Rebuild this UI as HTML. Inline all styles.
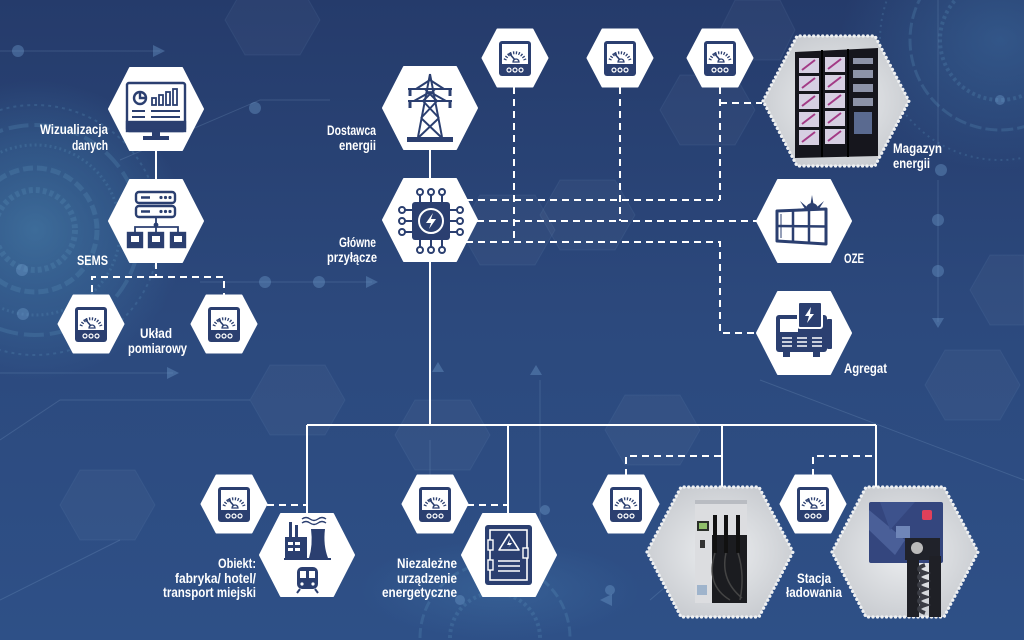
<!DOCTYPE html>
<html><head><meta charset="utf-8"><style>
html,body{margin:0;padding:0;background:#2a4678;width:1024px;height:640px;overflow:hidden;}
svg{display:block;}
text{font-family:"Liberation Sans",sans-serif;font-weight:700;font-size:14px;fill:#fff;}
</style></head><body>
<svg width="1024" height="640" viewBox="0 0 1024 640" xmlns="http://www.w3.org/2000/svg">
<defs>
<linearGradient id="bg" x1="0" y1="0" x2="0" y2="1">
<stop offset="0" stop-color="#253b6b"/><stop offset="0.5" stop-color="#2c497d"/><stop offset="1" stop-color="#2e5087"/>
</linearGradient>
<radialGradient id="gl1" cx="0.5" cy="0.5" r="0.5"><stop offset="0" stop-color="#4a86b0" stop-opacity="0.6"/><stop offset="0.6" stop-color="#3e74a3" stop-opacity="0.35"/><stop offset="1" stop-color="#3e74a3" stop-opacity="0"/></radialGradient>
<radialGradient id="gl2" cx="0.5" cy="0.5" r="0.5"><stop offset="0" stop-color="#3f6fa3" stop-opacity="0.5"/><stop offset="1" stop-color="#3f6fa3" stop-opacity="0"/></radialGradient>
<radialGradient id="gray" cx="0.5" cy="0.5" r="0.6"><stop offset="0" stop-color="#eceef0"/><stop offset="1" stop-color="#c6c9ce"/></radialGradient>
<polygon id="hB" points="-47,0 -26,-41 26,-41 47,0 26,41 -26,41"/>
<polygon id="hM" points="-32.5,0 -17.5,-28.5 17.5,-28.5 32.5,0 17.5,28.5 -17.5,28.5"/>
<polygon id="hG" points="-73,0 -39,-65 39,-65 73,0 39,65 -39,65"/>
<g id="meter">
<use href="#hM" fill="#fff" stroke="#fff" stroke-width="2" stroke-linejoin="round"/>
<rect x="-16" y="-17" width="32" height="35" rx="3" fill="#2b3f70"/>
<rect x="-13" y="-14" width="26" height="20" fill="#fff"/>
<path d="M-10 2 A10.5 10.5 0 0 1 10 2" fill="none" stroke="#2b3f70" stroke-width="3" stroke-dasharray="1.3 1.5"/>
<line x1="-6" y1="-5" x2="0" y2="2" stroke="#2b3f70" stroke-width="1.6"/>
<path d="M-2 4 a3 3 0 0 1 6 0 z" fill="none" stroke="#2b3f70" stroke-width="1.3"/>
<circle cx="-6" cy="12" r="2" fill="none" stroke="#fff" stroke-width="1.2"/>
<circle cx="0" cy="12" r="2" fill="none" stroke="#fff" stroke-width="1.2"/>
<circle cx="6" cy="12" r="2" fill="none" stroke="#fff" stroke-width="1.2"/>
</g>
</defs>

<!-- background -->
<rect width="1024" height="640" fill="url(#bg)"/>
<ellipse cx="35" cy="230" rx="150" ry="150" fill="url(#gl1)"/>
<ellipse cx="1000" cy="40" rx="160" ry="130" fill="url(#gl2)"/>
<ellipse cx="500" cy="590" rx="140" ry="50" fill="url(#gl2)"/>
<g fill="none" stroke="#5b93bd" stroke-opacity="0.25">
<circle cx="35" cy="230" r="40" stroke-width="6" stroke-dasharray="4 3"/>
<circle cx="35" cy="230" r="62" stroke-width="5" stroke-dasharray="10 4"/>
<circle cx="35" cy="230" r="85" stroke-width="3" stroke-dasharray="2 3"/>
<circle cx="35" cy="230" r="105" stroke-width="4" stroke-dasharray="20 6"/>
<circle cx="35" cy="230" r="125" stroke-width="2" stroke-dasharray="3 4"/>
<circle cx="1000" cy="40" r="60" stroke-width="4" stroke-dasharray="3 3"/>
<circle cx="1000" cy="40" r="90" stroke-width="3" stroke-dasharray="12 4"/>
<circle cx="1000" cy="40" r="120" stroke-width="2" stroke-dasharray="2 4"/>
<path d="M450 638 A45 45 0 0 1 540 638" stroke-width="4" stroke-dasharray="3 3"/>
<path d="M420 638 A75 75 0 0 1 570 638" stroke-width="3" stroke-dasharray="10 4"/>
</g>
<!-- faint hexagons -->
<g fill="#ffffff" fill-opacity="0.035" stroke="#7fa6d0" stroke-opacity="0.1">
<polygon points="225,20 245,-15 300,-15 320,20 300,55 245,55"/>
<polygon points="460,230 480,195 535,195 555,230 535,265 480,265"/>
<polygon points="540,215 560,180 615,180 635,215 615,250 560,250"/>
<polygon points="250,400 270,365 325,365 345,400 325,435 270,435"/>
<polygon points="60,505 80,470 135,470 155,505 135,540 80,540"/>
<polygon points="605,430 625,395 680,395 700,430 680,465 625,465"/>
<polygon points="970,290 990,255 1024,255 1024,325 990,325"/>
<polygon points="925,385 945,350 1000,350 1020,385 1000,420 945,420"/>
<polygon points="660,110 680,75 735,75 755,110 735,145 680,145"/>
<polygon points="395,435 415,400 470,400 490,435 470,470 415,470"/>
<polygon points="720,30 735,0 780,0 795,30 780,60 735,60"/>
</g>
<!-- faint traces -->
<g stroke="#8fb4d8" stroke-opacity="0.2" stroke-width="1" fill="none">
<path d="M0 51 H160"/><path d="M0 373 H173"/><path d="M200 282 H372"/>
<path d="M938 180 V322"/><path d="M938 0 V150"/>
<path d="M0 440 L60 400 H250"/><path d="M540 380 V520"/><path d="M430 440 V520"/>
<path d="M650 600 L720 540"/><path d="M0 600 L120 540"/>
<path d="M120 160 L260 100 H330"/><path d="M760 380 L1024 480"/>
</g>
<g fill="#6f9ccb" fill-opacity="0.4">
<circle cx="18" cy="51" r="6"/><circle cx="265" cy="282" r="6"/><circle cx="319" cy="282" r="6"/>
<circle cx="938" cy="220" r="6"/><circle cx="938" cy="271" r="6"/><circle cx="23" cy="314" r="6"/>
<circle cx="255" cy="108" r="6"/><circle cx="941" cy="170" r="6"/><circle cx="22" cy="270" r="6"/>
<circle cx="545" cy="510" r="5"/><circle cx="460" cy="600" r="5"/><circle cx="610" cy="590" r="5"/>
<circle cx="1000" cy="100" r="5"/>
<path d="M153 45 L165 51 L153 57Z"/><path d="M366 276 L378 282 L366 288Z"/><path d="M167 367 L179 373 L167 379Z"/>
<path d="M932 318 L944 318 L938 328Z"/><path d="M530 375 L536 365 L542 375Z"/><path d="M432 372 L438 362 L444 372Z"/>
<path d="M600 600 L612 594 L612 606Z"/>
</g>

<!-- solid connectors -->
<g stroke="#fff" stroke-width="2" fill="none">
<path d="M156 150 V180"/>
<path d="M430 149 V179"/>
<path d="M430 261 V425"/>
<path d="M307 425 H876"/>
<path d="M307 425 V513"/><path d="M508 425 V513"/><path d="M722 425 V487"/><path d="M876 425 V487"/>
</g>
<!-- dashed connectors -->
<g stroke="#fff" stroke-width="2" fill="none" stroke-dasharray="7 5">
<path d="M156 262 V277"/><path d="M156 277 H92 V295"/><path d="M156 277 H224 V295"/>
<path d="M514 87 V242"/>
<path d="M620 87 V221"/>
<path d="M720 87 V200"/>
<path d="M720 103 H762"/>
<path d="M466 200 H720"/>
<path d="M477 221 H757"/>
<path d="M466 242 H720 V333 H757"/>
<path d="M267 505 H307"/>
<path d="M467 505 H508"/>
<path d="M626 476 V456 H722"/>
<path d="M813 476 V456 H876"/>
</g>

<!-- white big hexes -->
<g fill="#fff" stroke="#fff" stroke-width="2" stroke-linejoin="round">
<use href="#hB" x="156" y="109"/>
<use href="#hB" x="156" y="221"/>
<use href="#hB" x="430" y="108"/>
<use href="#hB" x="430" y="220"/>
<use href="#hB" x="804" y="221"/>
<use href="#hB" x="804" y="333"/>
<use href="#hB" x="307" y="555"/>
<use href="#hB" x="509" y="555"/>
</g>

<!-- meters -->
<use href="#meter" x="91" y="324"/>
<use href="#meter" x="224" y="324"/>
<use href="#meter" x="515" y="58"/>
<use href="#meter" x="620" y="58"/>
<use href="#meter" x="720" y="58"/>
<use href="#meter" x="234" y="504"/>
<use href="#meter" x="435" y="504"/>
<use href="#meter" x="626" y="504"/>
<use href="#meter" x="813" y="504"/>

<!-- gray hexes -->
<g fill="url(#gray)" stroke="#eef0f2" stroke-width="3.2" stroke-dasharray="0.1 4.4" stroke-linecap="round">
<use href="#hG" x="836" y="101"/>
<use href="#hG" x="720" y="552"/>
<use href="#hG" x="905" y="552"/>
</g>

<!-- Wizualizacja icon -->
<g transform="translate(156,109)" fill="none" stroke="#2b3f70" stroke-width="2.4">
<rect x="-29" y="-26" width="58" height="48" rx="2"/>
<rect x="-29" y="13" width="58" height="9" fill="#2b3f70"/>
<rect x="-4" y="22" width="8" height="6" fill="#2b3f70" stroke="none"/>
<rect x="-13" y="27" width="26" height="4" fill="#2b3f70" stroke="none"/>
<circle cx="-16" cy="-11" r="6"/><path d="M-16 -17 V-11 H-10"/>
<rect x="-4" y="-11" width="4" height="7" stroke-width="1.8"/>
<rect x="3" y="-14" width="4" height="10" stroke-width="1.8"/>
<rect x="10" y="-17" width="4" height="13" stroke-width="1.8"/>
<rect x="17" y="-20" width="4" height="16" stroke-width="1.8"/>
<path d="M-24 2 H-11 M-5 2 H24 M-24 8 H-11 M-5 8 H24" stroke-width="2"/>
</g>

<!-- SEMS icon -->
<g transform="translate(156,221)" stroke="#2b3f70" stroke-width="2.4" fill="none">
<rect x="-20" y="-29" width="39" height="11" rx="3"/>
<rect x="-20" y="-15" width="39" height="11" rx="3"/>
<path d="M-15 -23.5 H-6 M-15 -9.5 H-6" />
<g fill="#2b3f70" stroke="none"><circle cx="5" cy="-23.5" r="1.6"/><circle cx="9.5" cy="-23.5" r="1.6"/><circle cx="14" cy="-23.5" r="1.6"/><circle cx="5" cy="-9.5" r="1.6"/><circle cx="9.5" cy="-9.5" r="1.6"/><circle cx="14" cy="-9.5" r="1.6"/><circle cx="0" cy="4" r="2.4"/></g>
<path d="M0 -4 V12 M-21 12 V6 H22 V12" stroke-width="1.8"/>
<rect x="-28" y="12" width="14" height="14" fill="#2b3f70"/>
<rect x="-7" y="12" width="14" height="14" fill="#2b3f70"/>
<rect x="15" y="12" width="14" height="14" fill="#2b3f70"/>
<g fill="#fff" stroke="none"><rect x="-25" y="15" width="8" height="6"/><rect x="-4" y="15" width="8" height="6"/><rect x="18" y="15" width="8" height="6"/></g>
</g>

<!-- Tower icon -->
<g transform="translate(430,108)" stroke="#2b3f70" stroke-width="2" fill="none">
<path d="M0 -34 L-12 29 M0 -34 L12 29"/>
<path d="M-22 -19 H22 M-22 -7 H22 M-14 -19 L0 -28 L14 -19 M-16 -7 L0 -16 L16 -7"/>
<path d="M-5 -19 L7 -7 M5 -19 L-7 -7 M-7 -7 L9 10 M7 -7 L-9 10 M-9 10 L11 29 M9 10 L-11 29"/>
<path d="M-20 -19 V-12 M20 -19 V-12 M-20 -7 V0 M20 -7 V0" stroke-width="3"/>
<rect x="-22" y="30" width="44" height="3" fill="#2b3f70"/>
</g>

<!-- Główne icon -->
<g transform="translate(431,221)">
<g stroke="#2b3f70" stroke-width="2" fill="#fff">
<path d="M-11 -19 V-26 M0 -19 V-26 M11 -19 V-26 M-11 19 V26 M0 19 V26 M11 19 V26 M-19 -11 H-26 M-19 0 H-26 M-19 11 H-26 M19 -11 H26 M19 0 H26 M19 11 H26"/>
<circle cx="-11" cy="-29" r="3"/><circle cx="0" cy="-29" r="3"/><circle cx="11" cy="-29" r="3"/>
<circle cx="-11" cy="29" r="3"/><circle cx="0" cy="29" r="3"/><circle cx="11" cy="29" r="3"/>
<circle cx="-29" cy="-11" r="3"/><circle cx="-29" cy="0" r="3"/><circle cx="-29" cy="11" r="3"/>
<circle cx="29" cy="-11" r="3"/><circle cx="29" cy="0" r="3"/><circle cx="29" cy="11" r="3"/>
</g>
<rect x="-19" y="-19" width="38" height="38" rx="3" fill="#2b3f70"/>
<circle r="12" fill="none" stroke="#fff" stroke-width="2"/>
<path d="M2 -8 L-5 2 H0 L-2 8 L5 -2 H0 Z" fill="#fff"/>
</g>

<!-- OZE icon -->
<g transform="translate(804,221)">
<g fill="#2b3f70"><circle cx="8" cy="-12" r="6"/>
<path d="M8 -26 L9.5 -17 L6.5 -17Z M-4 -20 L3 -14 L1 -12Z M20 -20 L13 -14 L15 -12Z M-7 -12 L2 -13 L2 -11Z M23 -12 L14 -13 L14 -11Z"/></g>
<path d="M-27 -10 L22 -12 L22 23 L-27 20 Z" fill="#fff" stroke="#2b3f70" stroke-width="3" stroke-linejoin="round"/>
<path d="M-11 -10.7 V21 M5 -11.3 V22 M-27 5 L22 5.5" stroke="#2b3f70" stroke-width="2.5"/>
<path d="M-23 -7 V17" stroke="#2b3f70" stroke-width="1"/>
</g>

<!-- Agregat icon -->
<g transform="translate(804,333)">
<rect x="-28" y="-18" width="51" height="37" rx="3" fill="#2b3f70"/>
<rect x="23" y="-14" width="5" height="30" rx="1" fill="#2b3f70"/>
<rect x="-24" y="-14" width="18" height="13" fill="#fff"/>
<rect x="-6" y="-31" width="24" height="26" rx="2" fill="#2b3f70" stroke="#fff" stroke-width="2"/>
<path d="M7 -26 L1 -17 H5 L3 -10 L10 -19 H6 Z" fill="#fff"/>
<g stroke="#fff" stroke-width="1.6"><path d="M-22 5 H-12 M-22 9 H-12 M-22 13 H-12 M-7 5 H3 M-7 9 H3 M-7 13 H3 M8 5 H18 M8 9 H18 M8 13 H18"/></g>
<rect x="-21" y="19" width="7" height="5" fill="#2b3f70"/><rect x="9" y="19" width="7" height="5" fill="#2b3f70"/>
</g>

<!-- Obiekt icon -->
<g transform="translate(307,555)">
<path d="M-5 -36 q4 -3 8 0 t8 0 t8 0 M-5 -32 q4 -3 8 0 t8 0 t8 0" stroke="#2b3f70" stroke-width="1.4" fill="none"/>
<rect x="-18" y="-33" width="3" height="16" fill="#2b3f70"/><rect x="-12" y="-30" width="3" height="13" fill="#2b3f70"/>
<rect x="-22" y="-18" width="22" height="21" fill="#2b3f70"/>
<g fill="#fff"><rect x="-19" y="-13" width="5" height="3"/><rect x="-12" y="-13" width="5" height="3"/><rect x="-19" y="-7" width="5" height="3"/><rect x="-12" y="-7" width="5" height="3"/></g>
<path d="M2 3 Q6 -10 4 -26 H18 Q16 -10 21 3 Z" fill="#2b3f70"/>
<rect x="-23" y="3" width="47" height="2" fill="#2b3f70"/>
<rect x="-10" y="12" width="21" height="22" rx="5" fill="#2b3f70"/>
<g fill="#fff"><rect x="-7" y="16" width="6" height="7"/><rect x="2" y="16" width="6" height="7"/><circle cx="-5" cy="29" r="1.6"/><circle cx="6" cy="29" r="1.6"/></g>
<path d="M-7 34 L-10 38 M8 34 L11 38" stroke="#2b3f70" stroke-width="2"/>
</g>

<!-- Niezależne icon -->
<g transform="translate(509,555)">
<rect x="-24" y="-30" width="47" height="60" rx="3" fill="#2b3f70"/>
<rect x="-19" y="-25" width="37" height="50" fill="none" stroke="#fff" stroke-width="1.6"/>
<rect x="-21" y="-15" width="5" height="10" fill="#2b3f70" stroke="#fff" stroke-width="1.4"/>
<rect x="-21" y="5" width="5" height="10" fill="#2b3f70" stroke="#fff" stroke-width="1.4"/>
<rect x="14" y="-7" width="5" height="10" fill="#2b3f70" stroke="#fff" stroke-width="1.4"/>
<path d="M0 -21 L10 -5 H-10 Z" fill="none" stroke="#fff" stroke-width="1.6" stroke-linejoin="round"/>
<path d="M1 -16 L-2 -10 H1 L-1 -7 L3 -12 H0 Z" fill="#fff"/>
<path d="M-11 6 H11 M-11 11 H11 M-11 16 H11" stroke="#fff" stroke-width="1.6"/>
</g>

<!-- Magazyn energii image -->
<g>
<path d="M795 52 L878 48 L878 156 L795 158 Z" fill="#16161d"/>
<g fill="#d6cfe2">
<rect x="799" y="58" width="20" height="15"/><rect x="799" y="76" width="20" height="15"/><rect x="799" y="94" width="20" height="15"/><rect x="799" y="112" width="20" height="15"/><rect x="799" y="130" width="20" height="15"/>
<rect x="825" y="57" width="20" height="15"/><rect x="825" y="75" width="20" height="15"/><rect x="825" y="93" width="20" height="15"/><rect x="825" y="111" width="20" height="15"/><rect x="825" y="129" width="20" height="15"/>
</g>
<g stroke="#a33a86" stroke-width="2" fill="none">
<path d="M802 70 L815 60 M802 88 L815 78 M802 106 L815 96 M802 124 L815 114 M802 142 L815 132 M828 69 L841 59 M828 87 L841 77 M828 105 L841 95 M828 123 L841 113 M828 141 L841 131"/>
</g>
<g fill="#8d93a8"><rect x="853" y="58" width="20" height="6"/><rect x="853" y="70" width="20" height="8"/><rect x="853" y="84" width="20" height="8"/><rect x="853" y="98" width="20" height="8"/></g>
<rect x="854" y="112" width="18" height="22" fill="#5a6a90"/>
<path d="M822 50 V157 M848 49 V157" stroke="#000" stroke-width="2"/>
</g>

<!-- Charger 1 image -->
<g>
<rect x="695" y="500" width="52" height="103" fill="#dcdde0"/>
<rect x="695" y="500" width="52" height="4" fill="#b9bcc2"/>
<rect x="712" y="535" width="35" height="68" fill="#1b1c20"/>
<rect x="697" y="521" width="12" height="10" fill="#2a2f2a"/><rect x="699" y="523" width="8" height="6" fill="#8fbf6a"/>
<rect x="700" y="540" width="5" height="8" fill="#333"/>
<rect x="713" y="515" width="4" height="38" fill="#111"/><rect x="724" y="515" width="4" height="38" fill="#111"/><rect x="736" y="515" width="4" height="38" fill="#111"/>
<path d="M715 553 Q705 585 730 600 M726 553 Q720 580 742 598 M738 553 Q745 575 740 600" stroke="#444" stroke-width="1.5" fill="none"/>
<rect x="697" y="585" width="10" height="10" fill="#9fb4cc"/>
</g>

<!-- Charger 2 image -->
<g>
<rect x="869" y="502" width="74" height="61" rx="2" fill="#34467e"/>
<path d="M869 510 L905 540 L895 555 L869 530 Z" fill="#4a5f98"/>
<path d="M880 502 L915 502 L890 530 Z" fill="#3d528c"/>
<rect x="896" y="526" width="14" height="12" fill="#6f86b8"/>
<rect x="922" y="510" width="10" height="10" rx="2" fill="#e0405a"/>
<rect x="905" y="538" width="35" height="22" fill="#20222a"/>
<circle cx="917" cy="548" r="6" fill="#bbb"/>
<path d="M913 560 V617 M935 556 V617" stroke="#1f2026" stroke-width="12"/>
<path d="M925 565 q-12 4 0 8 q-12 4 0 8 q-12 4 0 8 q-12 4 0 8 q-12 4 0 8 q-12 4 0 8" stroke="#3a3c44" stroke-width="4" fill="none"/>
</g>

<!-- labels -->
<text x="40" y="134" textLength="68" lengthAdjust="spacingAndGlyphs">Wizualizacja</text>
<text x="72" y="150" textLength="36" lengthAdjust="spacingAndGlyphs">danych</text>
<text x="77" y="265" textLength="31" lengthAdjust="spacingAndGlyphs">SEMS</text>
<text x="140" y="338" textLength="32" lengthAdjust="spacingAndGlyphs">Układ</text>
<text x="128" y="353" textLength="59" lengthAdjust="spacingAndGlyphs">pomiarowy</text>
<text x="327" y="135" textLength="49" lengthAdjust="spacingAndGlyphs">Dostawca</text>
<text x="339" y="150" textLength="37" lengthAdjust="spacingAndGlyphs">energii</text>
<text x="339" y="247" textLength="37" lengthAdjust="spacingAndGlyphs">Główne</text>
<text x="327" y="262" textLength="50" lengthAdjust="spacingAndGlyphs">przyłącze</text>
<text x="893" y="153" textLength="49" lengthAdjust="spacingAndGlyphs">Magazyn</text>
<text x="893" y="168" textLength="37" lengthAdjust="spacingAndGlyphs">energii</text>
<text x="844" y="263" textLength="20" lengthAdjust="spacingAndGlyphs">OZE</text>
<text x="844" y="373" textLength="43" lengthAdjust="spacingAndGlyphs">Agregat</text>
<text x="218" y="568" textLength="38" lengthAdjust="spacingAndGlyphs">Obiekt:</text>
<text x="175" y="583" textLength="81" lengthAdjust="spacingAndGlyphs">fabryka/ hotel/</text>
<text x="163" y="597" textLength="93" lengthAdjust="spacingAndGlyphs">transport miejski</text>
<text x="397" y="568" textLength="60" lengthAdjust="spacingAndGlyphs">Niezależne</text>
<text x="397" y="583" textLength="60" lengthAdjust="spacingAndGlyphs">urządzenie</text>
<text x="382" y="597" textLength="75" lengthAdjust="spacingAndGlyphs">energetyczne</text>
<text x="797" y="583" textLength="34" lengthAdjust="spacingAndGlyphs">Stacja</text>
<text x="786" y="597" textLength="56" lengthAdjust="spacingAndGlyphs">ładowania</text>
</svg>
</body></html>
